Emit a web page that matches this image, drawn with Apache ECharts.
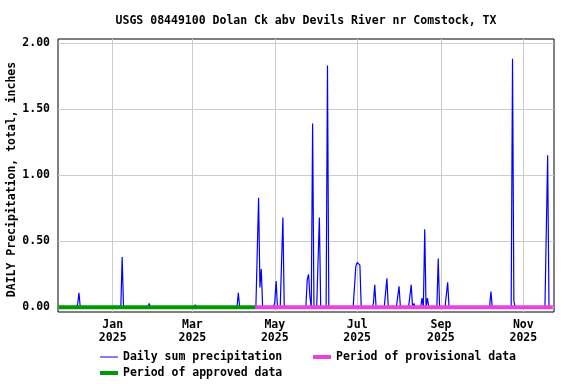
<!DOCTYPE html>
<html><head><meta charset="utf-8">
<script src="https://cdn.jsdelivr.net/npm/echarts@6/dist/echarts.min.js"></script>
<style>html,body{margin:0;padding:0;background:#fff}#c{width:576px;height:384px}</style>
</head><body><div id="c"></div>
<script>
const titleText = 'USGS 08449100 Dolan Ck abv Devils River nr Comstock, TX';
const yAxisTitle = 'DAILY Precipitation, total, inches';
const seriesNames = ['Daily sum precipitation', 'Period of provisional data', 'Period of approved data'];

// Days with measurable precipitation (all other days of the record read as 0.00)
const rainDates = [
  '2024-12-06','2024-12-07','2025-01-08','2025-01-28','2025-03-03','2025-04-04',
  '2025-04-19','2025-04-20','2025-04-21','2025-05-01','2025-05-02','2025-05-07',
  '2025-05-25','2025-05-26','2025-05-27','2025-05-29','2025-06-03','2025-06-09',
  '2025-06-30','2025-07-01','2025-07-02','2025-07-03','2025-07-13','2025-07-14',
  '2025-07-23','2025-08-01','2025-08-10','2025-08-12','2025-08-18','2025-08-20',
  '2025-08-22','2025-08-30','2025-09-06','2025-10-08','2025-10-24','2025-10-25',
  '2025-11-19'
];
const rainValues = [
  0.02, 0.11, 0.38, 0.03, 0.02, 0.11,
  0.83, 0.15, 0.29, 0.04, 0.20, 0.68,
  0.21, 0.25, 0.08, 1.39, 0.68, 1.83,
  0.31, 0.34, 0.33, 0.32, 0.03, 0.17,
  0.22, 0.16, 0.17, 0.03, 0.07, 0.59,
  0.07, 0.37, 0.19, 0.12, 1.88, 0.05,
  1.15
];
const recordStart = '2024-11-22';
const recordEnd = '2025-11-22';
const approvedPeriod = ['2024-11-22T00:00', '2025-04-16T10:00'];
const provisionalPeriod = ['2025-04-16T10:00', '2025-11-22T19:00'];
const xRange = ['2024-11-21T12:00', '2025-11-23T17:00'];
const xTickDates = ['2025-01-01','2025-03-01','2025-05-01','2025-07-01','2025-09-01','2025-11-01'];
const xTickLabels = ['Jan\n2025','Mar\n2025','May\n2025','Jul\n2025','Sep\n2025','Nov\n2025'];
const yTickValues = [0, 0.5, 1, 1.5, 2];
const yTickLabels = ['0.00', '0.50', '1.00', '1.50', '2.00'];
const yRange = [-0.035, 2.03];

function ts(s) { return Date.parse(s.length === 10 ? s + 'T00:00:00Z' : s + ':00Z'); }
const DAY = 86400000;

const rainMap = {};
rainDates.forEach((d, i) => { rainMap[ts(d)] = rainValues[i]; });
const dailyData = [];
for (let t = ts(recordStart); t <= ts(recordEnd); t += DAY) {
  dailyData.push([t, rainMap[t] !== undefined ? rainMap[t] : 0]);
}
const xTickTs = xTickDates.map(ts);

const font = { fontFamily: 'DejaVu Sans Mono', fontWeight: 'bold', fontSize: 11.5, color: '#000' };

const chart = echarts.init(document.getElementById('c'), null, { renderer: 'canvas' });
chart.setOption({
  animation: false,
  backgroundColor: '#fff',
  title: {
    text: titleText, left: 306, top: 14, textAlign: 'center', padding: 0,
    textStyle: Object.assign({}, font, { lineHeight: 14 })
  },
  legend: [
    { data: [{ name: seriesNames[0], icon: 'rect' }], left: 100, top: 350, padding: 0,
      itemWidth: 18, itemHeight: 1, itemGap: 0, selectedMode: false,
      textStyle: Object.assign({}, font, { lineHeight: 14 }) },
    { data: [{ name: seriesNames[1], icon: 'rect' }], left: 313, top: 350, padding: 0,
      itemWidth: 18, itemHeight: 4, itemGap: 0, selectedMode: false,
      textStyle: Object.assign({}, font, { lineHeight: 14 }) },
    { data: [{ name: seriesNames[2], icon: 'rect' }], left: 100, top: 366, padding: 0,
      itemWidth: 18, itemHeight: 4, itemGap: 0, selectedMode: false,
      textStyle: Object.assign({}, font, { lineHeight: 14 }) }
  ],
  grid: { left: 58, right: 22, top: 39, bottom: 72, show: true, borderColor: '#000', borderWidth: 1,
    backgroundColor: 'transparent', containLabel: false, outerBoundsMode: 'none' },
  xAxis: {
    type: 'value', min: ts(xRange[0]), max: ts(xRange[1]),
    axisLine: { show: false },
    axisTick: { show: false, customValues: xTickTs },
    axisLabel: Object.assign({}, font, {
      customValues: xTickTs, margin: 7, lineHeight: 13, hideOverlap: false,
      formatter: function (v) {
        for (let i = 0; i < xTickTs.length; i++) if (Math.abs(xTickTs[i] - v) < DAY / 2) return xTickLabels[i];
        return '';
      }
    }),
    splitLine: { show: true, lineStyle: { color: '#cccccc', width: 1 } }
  },
  yAxis: {
    type: 'value', min: yRange[0], max: yRange[1],
    name: yAxisTitle, nameLocation: 'middle', nameGap: 40, nameMoveOverlap: false,
    nameTextStyle: Object.assign({}, font, { padding: [0, 8, 0, 0] }),
    axisLine: { show: false },
    axisTick: { show: false, customValues: yTickValues },
    axisLabel: Object.assign({}, font, {
      customValues: yTickValues, margin: 8,
      formatter: function (v) {
        for (let i = 0; i < yTickValues.length; i++) if (Math.abs(yTickValues[i] - v) < 1e-6) return yTickLabels[i];
        return '';
      }
    }),
    splitLine: { show: true, lineStyle: { color: '#cccccc', width: 1 } }
  },
  series: [
    { name: seriesNames[0], type: 'line', data: dailyData, showSymbol: false, symbol: 'none',
      z: 2, lineStyle: { color: '#0000ff', width: 1.2 }, itemStyle: { color: '#0000ff' } },
    { name: seriesNames[1], type: 'line', data: provisionalPeriod.map(d => [ts(d), 0]), symbol: 'none', z: 3,
      lineStyle: { color: '#ee40dd', width: 4 }, itemStyle: { color: '#ee40dd' } },
    { name: seriesNames[2], type: 'line', data: approvedPeriod.map(d => [ts(d), 0]), symbol: 'none', z: 3,
      lineStyle: { color: '#009900', width: 4 }, itemStyle: { color: '#009900' } }
  ]
});
</script></body></html>
